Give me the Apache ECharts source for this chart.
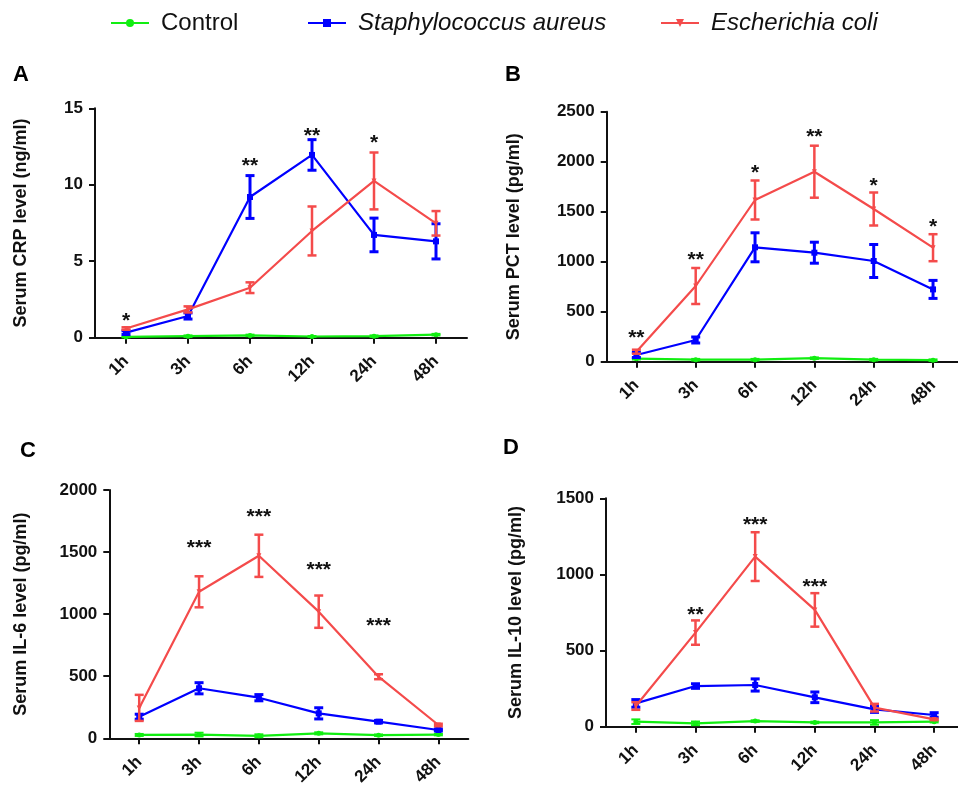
<!DOCTYPE html>
<html>
<head>
<meta charset="utf-8">
<script src="https://cdn.jsdelivr.net/npm/echarts@6/dist/echarts.min.js"></script>
<style>
html,body{margin:0;padding:0;background:#fff;}
#chart{width:958px;height:785px;}
</style>
</head>
<body>
<div id="chart"></div>
<script>
// ---------------- DATA ----------------
const categories = ['1h', '3h', '6h', '12h', '24h', '48h'];
const seriesNames = ['Control', 'Staphylococcus aureus', 'Escherichia coli'];

// Panel A: CRP (ng/ml)
const crpControl = [0.05, 0.1, 0.15, 0.08, 0.1, 0.2];
const crpControlErr = [0.03, 0.05, 0.05, 0.03, 0.05, 0.05];
const crpSA = [0.33, 1.42, 9.2, 11.95, 6.72, 6.3];
const crpSAErr = [0.12, 0.2, 1.4, 1.0, 1.1, 1.15];
const crpEC = [0.6, 1.85, 3.27, 6.98, 10.25, 7.48];
const crpECErr = [0.08, 0.2, 0.35, 1.6, 1.86, 0.8];
const crpStars = ['*', '', '**', '**', '*', ''];
const crpStarPos = [1.42, null, 11.51, 13.47, 13.04, null];
const crpTicks = [0, 15, 5];

// Panel B: PCT (pg/ml)
const pctControl = [30, 20, 20, 35, 20, 15];
const pctControlErr = [8, 8, 8, 8, 8, 8];
const pctSA = [67, 217, 1144, 1090, 1007, 723];
const pctSAErr = [25, 30, 145, 105, 165, 90];
const pctEC = [100, 757, 1617, 1900, 1527, 1140];
const pctECErr = [20, 180, 195, 260, 165, 135];
const pctStars = ['**', '**', '*', '**', '*', '*'];
const pctStarPos = [283, 1067, 1933, 2290, 1800, 1390];
const pctTicks = [0, 2500, 500];

// Panel C: IL-6 (pg/ml)
const il6Control = [27, 30, 20, 40, 25, 30];
const il6ControlErr = [8, 15, 12, 8, 6, 6];
const il6SA = [174, 403, 327, 201, 134, 67];
const il6SAErr = [20, 45, 25, 45, 10, 8];
const il6EC = [245, 1180, 1470, 1020, 496, 107];
const il6ECErr = [105, 125, 170, 130, 20, 10];
const il6Stars = ['', '***', '***', '***', '***', ''];
const il6StarPos = [null, 1570, 1820, 1396, 945, null];
const il6Ticks = [0, 2000, 500];

// Panel D: IL-10 (pg/ml)
const il10Control = [33, 22, 37, 28, 28, 33];
const il10ControlErr = [15, 12, 5, 5, 15, 5];
const il10SA = [153, 267, 274, 193, 114, 77];
const il10SAErr = [25, 15, 40, 35, 20, 15];
const il10EC = [136, 618, 1117, 767, 125, 48];
const il10ECErr = [25, 80, 160, 110, 25, 5];
const il10Stars = ['', '**', '***', '***', '', ''];
const il10StarPos = [null, 762, 1353, 949, null, null];
const il10Ticks = [0, 1500, 500];

const yTitles = ['Serum CRP level (ng/ml)', 'Serum PCT level (pg/ml)', 'Serum IL-6 level (pg/ml)', 'Serum IL-10 level (pg/ml)'];
const panelLetters = ['A', 'B', 'C', 'D'];

// ---------------- STYLE ----------------
const FONT = '"Liberation Sans", Arial, sans-serif';
const colors = ['#11ee11', '#0000ff', '#f44b4b'];
const symbols = ['circle', 'rect', 'triangle'];
const symbolSizes = [5, 6, 5];
const errWidths = [2, 3, 2.5];
const lineWidths = [2.2, 2.2, 2.2];

const grids = [
  {left: 95, top: 108.3, width: 372, height: 229.4, outerBoundsMode: 'none', containLabel: false},
  {left: 606.7, top: 111.7, width: 356, height: 250, outerBoundsMode: 'none', containLabel: false},
  {left: 109.3, top: 490, width: 359, height: 248.3, outerBoundsMode: 'none', containLabel: false},
  {left: 606, top: 498.3, width: 358, height: 228.4, outerBoundsMode: 'none', containLabel: false}
];
const nameGaps = [65, 84, 79, 81];
const letterPos = [[13, 75], [505, 75], [20, 451], [503, 448]];

const panels = [
  {means: [crpControl, crpSA, crpEC], errs: [crpControlErr, crpSAErr, crpECErr], stars: crpStars, starPos: crpStarPos, ticks: crpTicks},
  {means: [pctControl, pctSA, pctEC], errs: [pctControlErr, pctSAErr, pctECErr], stars: pctStars, starPos: pctStarPos, ticks: pctTicks},
  {means: [il6Control, il6SA, il6EC], errs: [il6ControlErr, il6SAErr, il6ECErr], stars: il6Stars, starPos: il6StarPos, ticks: il6Ticks},
  {means: [il10Control, il10SA, il10EC], errs: [il10ControlErr, il10SAErr, il10ECErr], stars: il10Stars, starPos: il10StarPos, ticks: il10Ticks}
];

const xAxes = [], yAxes = [], lineSeries = [], otherSeries = [];

panels.forEach((p, gi) => {
  xAxes.push({
    type: 'category', gridIndex: gi, data: categories, boundaryGap: true,
    axisLine: {show: true, lineStyle: {color: '#111', width: 2}},
    axisTick: {show: true, alignWithLabel: true, length: 6, lineStyle: {color: '#111', width: 2}},
    axisLabel: {rotate: 45, margin: 21, fontSize: 17, fontWeight: 'bold', color: '#111', fontFamily: FONT, interval: 0},
    splitLine: {show: false}
  });
  yAxes.push({
    type: 'value', gridIndex: gi, min: p.ticks[0], max: p.ticks[1], interval: p.ticks[2],
    name: yTitles[gi], nameLocation: 'middle', nameGap: nameGaps[gi],
    nameTextStyle: {fontSize: 18, fontWeight: 'bold', color: '#111', fontFamily: FONT},
    axisLine: {show: true, lineStyle: {color: '#111', width: 2}},
    axisTick: {show: true, length: 6, lineStyle: {color: '#111', width: 2}},
    axisLabel: {margin: 12, fontSize: 17, fontWeight: 'bold', color: '#111', fontFamily: FONT,
      formatter: function (v) { return String(v); }},
    splitLine: {show: false}
  });
  for (let s = 0; s < 3; s++) {
    lineSeries.push({
      type: 'line', name: seriesNames[s], xAxisIndex: gi, yAxisIndex: gi,
      data: p.means[s], symbol: symbols[s], symbolSize: symbolSizes[s],
      symbolRotate: s === 2 ? 180 : 0,
      lineStyle: {color: colors[s], width: lineWidths[s]},
      itemStyle: {color: colors[s]}, z: 3 + s, animation: false
    });
    const errData = categories.map((c, i) => [i, p.means[s][i], p.errs[s][i]]);
    otherSeries.push({
      type: 'custom', name: seriesNames[s], xAxisIndex: gi, yAxisIndex: gi,
      data: errData, encode: {x: 0, y: 1}, z: 3 + s, animation: false, silent: true,
      renderItem: function (params, api) {
        const idx = api.value(0), m = api.value(1), e = api.value(2);
        const top = api.coord([idx, m + e]);
        const bot = api.coord([idx, m - e]);
        const hw = 4.5;
        const st = {stroke: colors[s], lineWidth: errWidths[s]};
        return {
          type: 'group', children: [
            {type: 'line', shape: {x1: top[0], y1: top[1], x2: bot[0], y2: bot[1]}, style: st},
            {type: 'line', shape: {x1: top[0] - hw, y1: top[1], x2: top[0] + hw, y2: top[1]}, style: st},
            {type: 'line', shape: {x1: bot[0] - hw, y1: bot[1], x2: bot[0] + hw, y2: bot[1]}, style: st}
          ]
        };
      }
    });
  }
  const starData = [];
  p.stars.forEach((t, i) => { if (t) starData.push([i, p.starPos[i]]); });
  otherSeries.push({
    type: 'custom', name: 'stars' + gi, xAxisIndex: gi, yAxisIndex: gi,
    data: starData, encode: {x: 0, y: 1}, z: 10, animation: false, silent: true,
    renderItem: function (params, api) {
      const pt = api.coord([api.value(0), api.value(1)]);
      const label = p.stars[api.value(0)];
      return {
        type: 'text', x: pt[0], y: pt[1] + 5,
        style: {text: label, fill: '#111', font: 'bold 21px ' + FONT, align: 'center', verticalAlign: 'middle'}
      };
    }
  });
});

const legendCommon = {
  top: 11, itemWidth: 38, itemHeight: 10, selectedMode: false, padding: 0,
  textStyle: {fontSize: 24, color: '#111', fontFamily: FONT, padding: [0, 0, 0, 7]}
};
const legends = [
  Object.assign({}, legendCommon, {left: 110, data: ['Control']}),
  Object.assign({}, legendCommon, {left: 307, data: ['Staphylococcus aureus'], textStyle: Object.assign({}, legendCommon.textStyle, {fontStyle: 'italic'})}),
  Object.assign({}, legendCommon, {left: 660, data: ['Escherichia coli'], textStyle: Object.assign({}, legendCommon.textStyle, {fontStyle: 'italic'})})
];

const graphics = panelLetters.map((l, i) => ({
  type: 'text', left: letterPos[i][0], top: letterPos[i][1] - 11,
  style: {text: l, font: 'bold 22px ' + FONT, fill: '#000'}
}));

const chart = echarts.init(document.getElementById('chart'), null, {renderer: 'canvas'});
chart.setOption({
  backgroundColor: '#fff',
  animation: false,
  grid: grids,
  xAxis: xAxes,
  yAxis: yAxes,
  legend: legends,
  graphic: graphics,
  series: lineSeries.concat(otherSeries)
});
</script>
</body>
</html>
